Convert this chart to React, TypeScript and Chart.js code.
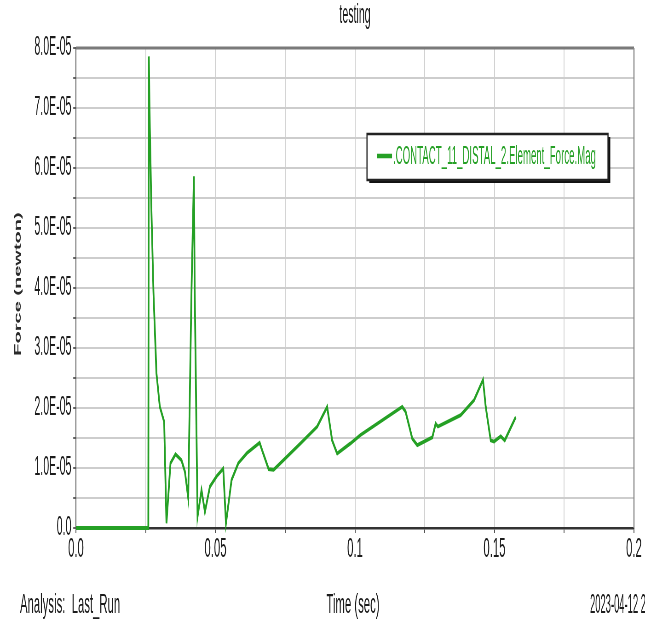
import React, { useEffect, useRef } from 'react';
import { Chart, registerables } from 'chart.js';

Chart.register(...registerables);

// Internal drawing width; the canvas is squeezed horizontally to 645px (the reference is a horizontally compressed screenshot)
const W = 1402;
const H = 625;
const SX = 645 / W;
const FONT = "'Liberation Sans', Arial, sans-serif";
const GREEN = '#25a025';
const INK = '#1c1c1c';

// ---- data ----
const timeSec = [
  0, 0.02592, 0.0261, 0.02646, 0.02704, 0.02776, 0.02883, 0.03005, 0.0316, 0.03242,
  0.03386, 0.03566, 0.03781, 0.03903, 0.04022, 0.0414, 0.04226, 0.04255, 0.04356, 0.04499, 0.04621,
  0.04801, 0.05038, 0.05278, 0.05375, 0.05576, 0.05817, 0.06129, 0.06582, 0.06668, 0.06905,
  0.07085, 0.08043, 0.08643, 0.09002, 0.09181, 0.09361, 0.09838, 0.10198, 0.11695, 0.11813,
  0.12054, 0.12233, 0.12772, 0.12891, 0.12973, 0.13788, 0.14266, 0.14589, 0.14686, 0.14865,
  0.14984, 0.15225, 0.15368, 0.15763,
];
const forceNewton = [
  0, 0, 7.86e-5, 6.67e-5, 5.27e-5, 3.94e-5, 2.58e-5, 2.02e-5, 1.77e-5, 0.08e-5,
  1.08e-5, 1.23e-5, 1.13e-5, 0.94e-5, 0.5e-5, 3.97e-5, 5.86e-5, 3.97e-5, 0.19e-5, 0.63e-5, 0.27e-5,
  0.69e-5, 0.86e-5, 0.99e-5, 0.08e-5, 0.8e-5, 1.08e-5, 1.25e-5, 1.42e-5, 1.3e-5, 0.98e-5,
  0.97e-5, 1.41e-5, 1.69e-5, 2.02e-5, 1.46e-5, 1.24e-5, 1.41e-5, 1.55e-5, 2.02e-5, 1.94e-5,
  1.49e-5, 1.38e-5, 1.51e-5, 1.74e-5, 1.69e-5, 1.88e-5, 2.13e-5, 2.47e-5, 2.02e-5, 1.46e-5,
  1.44e-5, 1.53e-5, 1.46e-5, 1.85e-5,
];

const xTickValues = [0, 0.05, 0.1, 0.15, 0.2];
const xTickLabels = ['0.0', '0.05', '0.1', '0.15', '0.2'];
const yTickValues = [0, 1e-5, 2e-5, 3e-5, 4e-5, 5e-5, 6e-5, 7e-5, 8e-5];
const yTickLabels = ['0.0', '1.0E-05', '2.0E-05', '3.0E-05', '4.0E-05', '5.0E-05', '6.0E-05', '7.0E-05', '8.0E-05'];

const seriesName = '.CONTACT_11_DISTAL_2.Element_Force.Mag';
const titleText = 'testing';
const yTitleText = 'Force (newton)';
const xTitleText = 'Time (sec)';
const footLeftText = 'Analysis:  Last_Run';
const footRightText = '2023-04-12 2';

function drawText(
  ctx: CanvasRenderingContext2D,
  text: string,
  x: number,
  y: number,
  size: number,
  sx: number,
  align: CanvasTextAlign,
  color: string,
  weight = 'normal'
) {
  ctx.save();
  ctx.translate(x, y);
  ctx.scale(sx, 1);
  ctx.font = `${weight} ${size}px ${FONT}`;
  ctx.fillStyle = color;
  ctx.textAlign = align;
  ctx.textBaseline = 'middle';
  ctx.fillText(text, 0, 0);
  ctx.restore();
}

const decor = {
  id: 'decor',
  beforeDatasetsDraw(chart: any) {
    const { ctx, chartArea } = chart;
    const { left, right, top, bottom } = chartArea;
    ctx.save();
    ctx.strokeStyle = '#7a7a7a';
    ctx.lineWidth = 3;
    ctx.beginPath();
    ctx.moveTo(left, top);
    ctx.lineTo(right, top);
    ctx.stroke();
    ctx.strokeStyle = '#8a8a8a';
    ctx.lineWidth = 2.5;
    ctx.beginPath();
    ctx.moveTo(right, top);
    ctx.lineTo(right, bottom);
    ctx.stroke();
    ctx.restore();
  },
  afterDraw(chart: any) {
    const { ctx, scales, chartArea } = chart;
    const xs = scales.x;
    const ys = scales.y;
    yTickValues.forEach((v, i) => {
      drawText(ctx, yTickLabels[i], chartArea.left - 10, ys.getPixelForValue(v), 27, 0.85, 'right', INK);
    });
    xTickValues.forEach((v, i) => {
      drawText(ctx, xTickLabels[i], xs.getPixelForValue(v), 549, 28, 0.88, 'center', INK);
    });
    drawText(ctx, titleText, 355 / SX, 16, 27, 0.85, 'center', INK);
    drawText(ctx, footLeftText, 20 / SX, 605, 28, 0.88, 'left', INK);
    drawText(ctx, xTitleText, 353 / SX, 605, 28, 0.88, 'center', INK);
    drawText(ctx, footRightText, 590 / SX, 605, 28, 0.73, 'left', INK);
    ctx.save();
    ctx.translate(18 / SX, 284);
    ctx.rotate(-Math.PI / 2);
    ctx.font = `bold 20px ${FONT}`;
    ctx.fillStyle = '#2a2a2a';
    ctx.textAlign = 'center';
    ctx.textBaseline = 'middle';
    ctx.fillText(yTitleText, 0, 0);
    ctx.restore();
    ctx.save();
    const bl = 367 / SX, br = 608 / SX, bt = 134, bb = 180;
    ctx.fillStyle = '#111';
    ctx.fillRect(bl + 5, bt + 3, br - bl, bb - bt);
    ctx.fillStyle = '#fff';
    ctx.fillRect(bl, bt, br - bl, bb - bt);
    ctx.strokeStyle = '#222';
    ctx.lineWidth = 2.5;
    ctx.strokeRect(bl, bt, br - bl, bb - bt);
    ctx.strokeStyle = GREEN;
    ctx.lineWidth = 4.5;
    ctx.beginPath();
    ctx.moveTo(377 / SX, 156);
    ctx.lineTo(392 / SX, 156);
    ctx.stroke();
    ctx.restore();
    drawText(ctx, seriesName, 393 / SX, 157, 25, 0.84, 'left', GREEN);
  },
};

export default function App() {
  const ref = useRef<HTMLCanvasElement>(null);
  useEffect(() => {
    if (!ref.current) return;
    const points = timeSec.map((t, i) => ({ x: t, y: forceNewton[i] }));
    const chart = new Chart(ref.current, {
      type: 'line',
      data: {
        datasets: [
          {
            label: seriesName,
            data: points,
            borderColor: GREEN,
            backgroundColor: GREEN,
            borderWidth: 3.8,
            pointRadius: 0,
            tension: 0,
            fill: false,
            clip: false,
          } as any,
        ],
      },
      options: {
        animation: false,
        responsive: false,
        devicePixelRatio: 1,
        layout: { padding: { top: 48, right: 24, left: 0, bottom: 0 } },
        plugins: {
          legend: { display: false },
          title: { display: false },
          tooltip: { enabled: false },
        },
        scales: {
          x: {
            type: 'linear',
            min: 0,
            max: 0.2,
            afterFit: (s: any) => {
              s.height = H - 528;
            },
            ticks: {
              stepSize: 0.025,
              autoSkip: false,
              maxRotation: 0,
              minRotation: 0,
              padding: 0,
              font: { family: FONT, size: 12 },
              callback: () => '',
            },
            grid: { color: '#d2d2d2', lineWidth: 2, tickLength: 5, tickColor: '#555' },
            border: { color: '#333', width: 2.5 },
          },
          y: {
            type: 'linear',
            min: 0,
            max: 8e-5,
            afterFit: (s: any) => {
              s.width = 76 / SX;
            },
            ticks: {
              stepSize: 0.5e-5,
              autoSkip: false,
              padding: 3,
              font: { family: FONT, size: 12 },
              callback: () => '',
            },
            grid: { color: '#cdcdcd', lineWidth: 2, tickLength: 6, tickColor: '#666' },
            border: { color: '#555', width: 2 },
          },
        },
      } as any,
      plugins: [decor],
    });
    return () => chart.destroy();
  }, []);
  return (
    <div style={{ position: 'absolute', left: 0, top: 0, width: 645, height: 625, overflow: 'hidden', background: '#fff' }}>
      <canvas
        ref={ref}
        width={W}
        height={H}
        style={{ display: 'block', width: W, height: H, transform: `scaleX(${SX})`, transformOrigin: '0 0' }}
      />
    </div>
  );
}
